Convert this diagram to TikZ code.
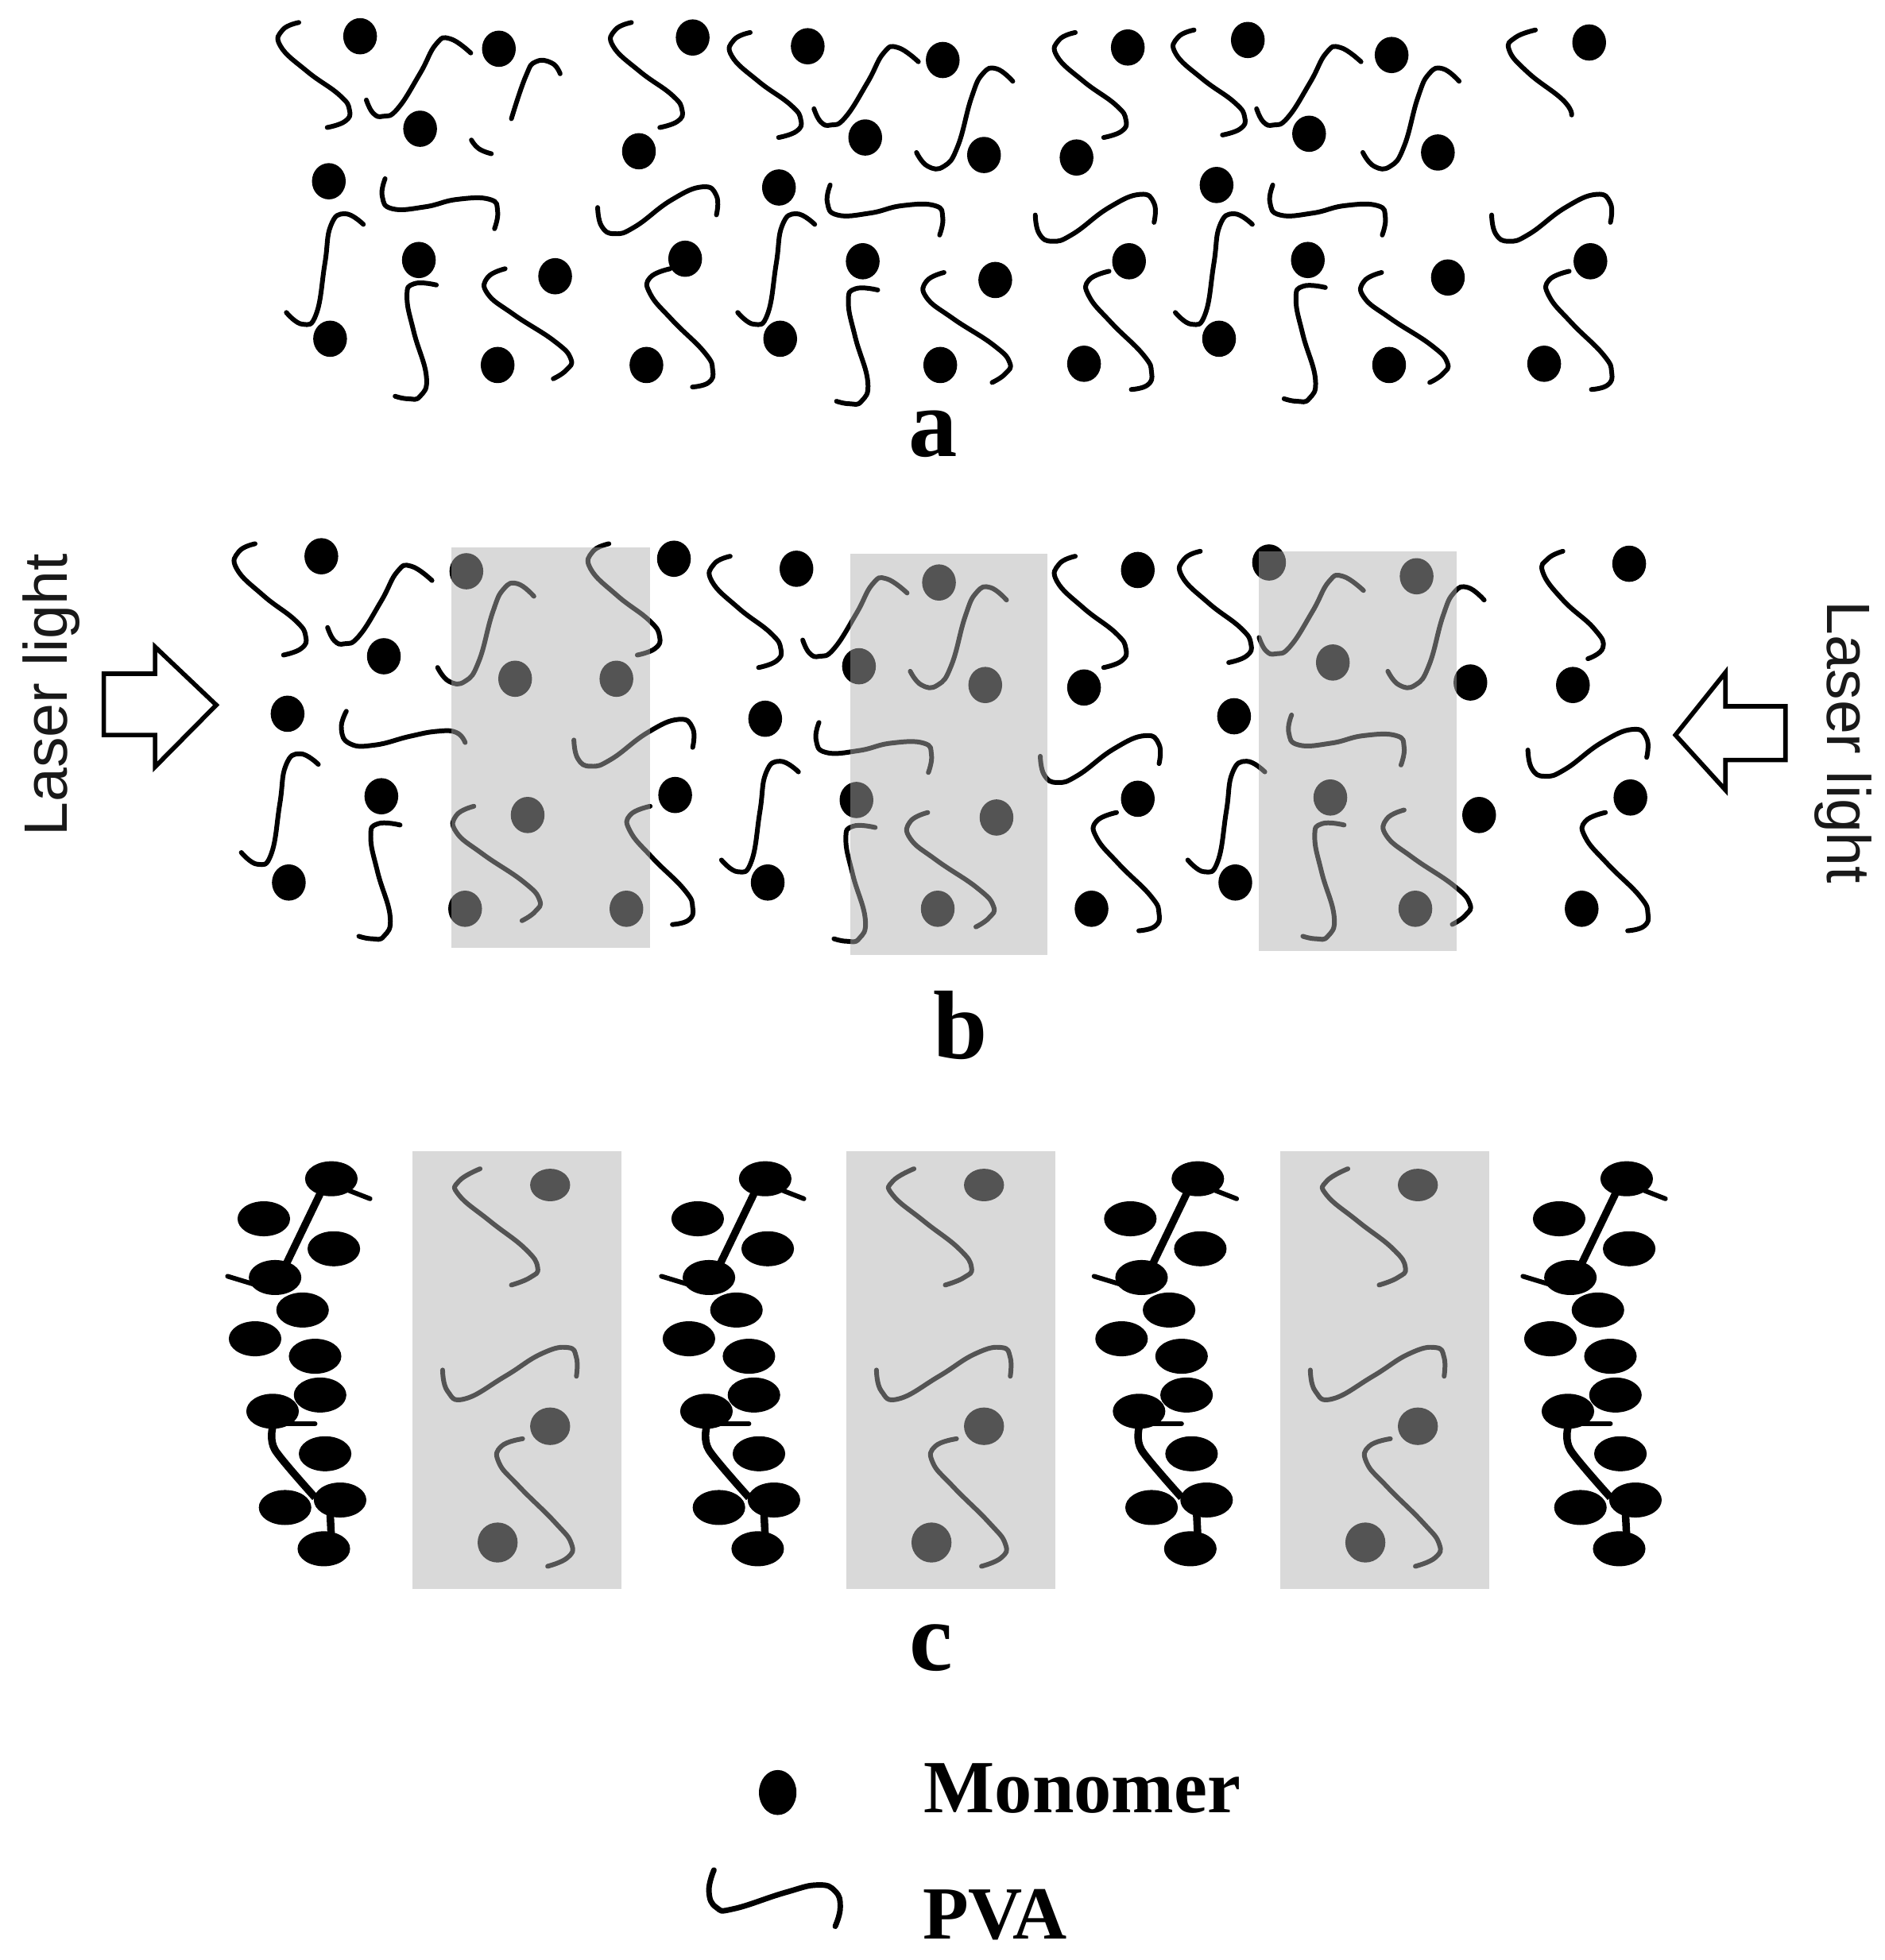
\documentclass[tikz,border=0pt]{standalone}
\usepackage{fontspec}
\setmainfont{Liberation Serif}
\newfontfamily\lasersf{Liberation Sans}
\tikzset{
strand/.style={line width=1.9pt, line cap=round, line join=round},
curvy/.style={smooth, tension=0.8},
sstrand/.pic={\draw [strand] plot [curvy] coordinates {(0,0) (-13,6) (-14.6,19) (6.5,39) (32.4,58) (40.5,70) (37,79) (22.7,84)};},
nstrand/.pic={\draw [strand] plot [curvy] coordinates {(0,0) (5.5,10.6) (13.6,13) (25,7) (42.8,-21) (55.7,-44.6) (67,-49) (83.5,-37.6)};},
rstrand/.pic={\draw [strand] plot [curvy] coordinates {(0,0) (9,11) (22,11) (33,-5) (44,-44) (53,-63) (64,-67) (77,-57)};},
jstrand/.pic={\draw [strand] plot [curvy] coordinates {(0,0) (13,9.4) (24,1) (30.8,-39) (35.6,-69.6) (47,-79) (61.6,-70.5)};},
kstrand/.pic={\draw [strand] plot [curvy] coordinates {(0,0) (-17.8,-1) (-23.5,9.4) (-18,37.6) (-8,73) (-13,89) (-22.7,91) (-33,89)};},
wstrand/.pic={\draw [strand] plot [curvy] coordinates {(0,0) (-2.3,14) (5.8,24) (31.8,22.5) (57.7,16.5) (83.7,16.5) (90,26) (87.5,40)};},
vstrand/.pic={\draw [strand] plot [curvy] coordinates {(0,0) (3.2,15) (13.6,21) (30,15.3) (59,-6) (83.7,-16.5) (95,-9.4) (95,5.9)};},
tstrand/.pic={\draw [strand] plot [curvy] coordinates {(0,0) (-14,7) (-14,20) (7,36.7) (39.5,58) (52.5,72) (49,81) (38.5,88)};},
ustrand/.pic={\draw [strand] plot [curvy] coordinates {(0,0) (-16,7) (-16,20) (1.6,41) (27.5,67) (34,81) (30.8,91) (17.8,94.6)};},
monomer/.style={x radius=13.5, y radius=14.5},
chainball/.style={x radius=21, y radius=14},
shade/.style={fill=black!31, fill opacity=0.48},
panellabel/.style={font=\fontsize{39}{39}\selectfont\bfseries},
legendlabel/.style={font=\fontsize{30}{30}\selectfont\bfseries, anchor=west},
laserlabel/.style={font=\fontsize{24.5}{24.5}\selectfont\lasersf, text=black!90},
laserarrow/.style={line width=1.8pt, miter limit=10}
}
\begin{document}
\begin{tikzpicture}
[x=0.5pt, y=-0.5pt]
\useasboundingbox (0,0) rectangle (1507,1568);
% a
\foreach \a/\b in {288/29,399/39,336/103,263/145,335/208,444/221,264/271,398/292,554/30,511/121,548/207,517/292,646/37,754/48,692/110,787/124,623/150,690/209,796/224,624/271,752/292,902/38,861/126,903/209,867/291,998/32,1113/44,1047/107,1150/122,973/148,1046/208,1158/222,975/271,1111/292,1271/34,1272/209,1235/291}
  \fill (\a,\b) circle [monomer];
\foreach \a/\b in {239/18,505/18,600/26,860/26,955/24} \pic at (\a,\b) {sstrand};
\foreach \a/\b in {293/80,651/87,1005/87} \pic at (\a,\b) {nstrand};
\foreach \a/\b in {733/122,1090/122} \pic at (\a,\b) {rstrand};
\foreach \a/\b in {308/143,664/148,1018/148} \pic at (\a,\b) {wstrand};
\foreach \a/\b in {478/166,828/172,1193/172} \pic at (\a,\b) {vstrand};
\foreach \a/\b in {229/250,590/250,940/250} \pic at (\a,\b) {jstrand};
\foreach \a/\b in {349/228,702/232,1060/230} \pic at (\a,\b) {kstrand};
\foreach \a/\b in {404/215,755/218,1105/218} \pic at (\a,\b) {tstrand};
\foreach \a/\b in {536/215,887/217,1255/217} \pic at (\a,\b) {ustrand};
\draw [strand] plot [curvy] coordinates {(448,59) (441.5,50.5) (428.6,49.4) (420.5,61) (409,95)};
\draw [strand] plot [curvy] coordinates {(377,112) (383,119) (393,123)};
\draw [strand] plot [curvy] coordinates {(1228,24) (1212,30) (1207,40) (1222,58) (1250,80) (1257,92)};
\node [panellabel] (labela) at (746,347) {a};
% b
\foreach \a/\b in {257/445,307/525,230/571,305/637,231/706,373/457,412/543,422/652,372/727,539/447,493/543,540/636,501/727,637/455,687/533,612/575,685/640,614/706,751/466,788/548,797/654,750/727,910/456,867/550,910/639,873/727,1015/450,1066/530,987/573,1064/638,988/706,1133/461,1176/546,1183/652,1132/727,1303/451,1258/548,1304/638,1265/727}
  \fill (\a,\b) circle [monomer];
\foreach \a/\b in {204/435,487/435,584/445,860/445,960/441} \pic at (\a,\b) [yscale=1.06] {sstrand};
\foreach \a/\b in {262/502,642/512,1007/510} \pic at (\a,\b) {nstrand};
\foreach \a/\b in {350/534,728/537,1110/537} \pic at (\a,\b) {rstrand};
\foreach \a/\b in {655/578,1033/572} \pic at (\a,\b) {wstrand};
\foreach \a/\b in {459/592,832/605,1222/600} \pic at (\a,\b) {vstrand};
\foreach \a/\b in {193/682,577/688,950/688} \pic at (\a,\b) {jstrand};
\foreach \a/\b in {320/660,700/662,1075/660} \pic at (\a,\b) {kstrand};
\foreach \a/\b in {379/645,742/650,1123/648} \pic at (\a,\b) [yscale=1.04] {tstrand};
\foreach \a/\b in {520/645,893/650,1284/650} \pic at (\a,\b) {ustrand};
\draw [strand] plot [curvy] coordinates {(277,569) (273,583) (280,595) (300,596) (328,589) (350,585) (365,586) (372,594)};
\draw [strand] plot [curvy] coordinates {(1250,441) (1238,447) (1234,458) (1250,480) (1275,503) (1282,518) (1270,527)};
\fill [shade] (361,438) rectangle (520,758);
\fill [shade] (680,443) rectangle (838,764);
\fill [shade] (1007,441) rectangle (1165,761);
\draw [laserarrow] (83,539) -- (124,539) -- (124,517.5) -- (173,564) -- (124,613.5) -- (124,588) -- (83,588) -- cycle;
\draw [laserarrow] (1428,565) -- (1380,565) -- (1380,538) -- (1340,588) -- (1380,632) -- (1380,608) -- (1428,608) -- cycle;
\node [laserlabel, rotate=90] (laserleft) at (41,556) {Laser light};
\node [laserlabel, rotate=-90] (laserright) at (1474,594) {Laser light};
\node [panellabel] (labelb) at (768,820) {b};
% c
\foreach \o in {0,347,693,1036} {
  \foreach \a/\b in {265/943,211/975,267/999,220/1022,242/1048,204/1071,252/1085,256/1116,218/1129,260/1163,272/1200,228/1206,259/1239}
    \fill (\o+\a,\b) circle [chainball];
  \draw [line width=3pt] (\o+256,955) -- (\o+229,1011);
  \draw [strand] (\o+278,952) -- (\o+296,959);
  \draw [strand] (\o+205,1028) -- (\o+182,1021);
  \draw [line width=3pt] plot [smooth] coordinates {(\o+218,1142) (\o+220,1160) (\o+252,1198)};
  \draw [line width=3pt] (\o+264,1210) -- (\o+265,1230);
  \draw [strand] (\o+230,1139) -- (\o+252,1139);
}
\foreach \o in {0,347,694} {
  \draw [strand] plot [curvy] coordinates {(\o+384,935) (\o+367,945) (\o+367,956) (\o+392,977) (\o+420,999) (\o+430,1014) (\o+424,1022) (\o+409,1028)};
  \draw [strand] plot [curvy] coordinates {(\o+354,1096) (\o+358,1113) (\o+372,1119) (\o+404,1101) (\o+433,1083) (\o+454,1078) (\o+461,1086) (\o+461,1101)};
  \draw [strand] plot [curvy] coordinates {(\o+418,1151) (\o+401,1157) (\o+399,1170) (\o+415,1189) (\o+444,1218) (\o+457,1235) (\o+454,1246) (\o+438,1253)};
  \fill (\o+440,948) circle [x radius=16, y radius=13];
  \fill (\o+440,1141) circle [x radius=16, y radius=15];
  \fill (\o+398,1234) circle [x radius=16, y radius=16];
  \fill [shade] (\o+330,921) rectangle (\o+497,1271);
}
\node [panellabel] (labelc) at (745,1318) {c};
% legend
\fill (622,1434) circle [x radius=15, y radius=18];
\draw [strand, line width=2.2pt] plot [curvy] coordinates {(571,1496) (567,1513) (573,1526) (587,1527) (628,1514) (654,1508) (668,1513) (672,1526) (668,1541)};
\node [legendlabel] (monomerlabel) at (732,1431) {Monomer};
\node [legendlabel] (pvalabel) at (731,1532) {PVA};
\end{tikzpicture}
\end{document}
